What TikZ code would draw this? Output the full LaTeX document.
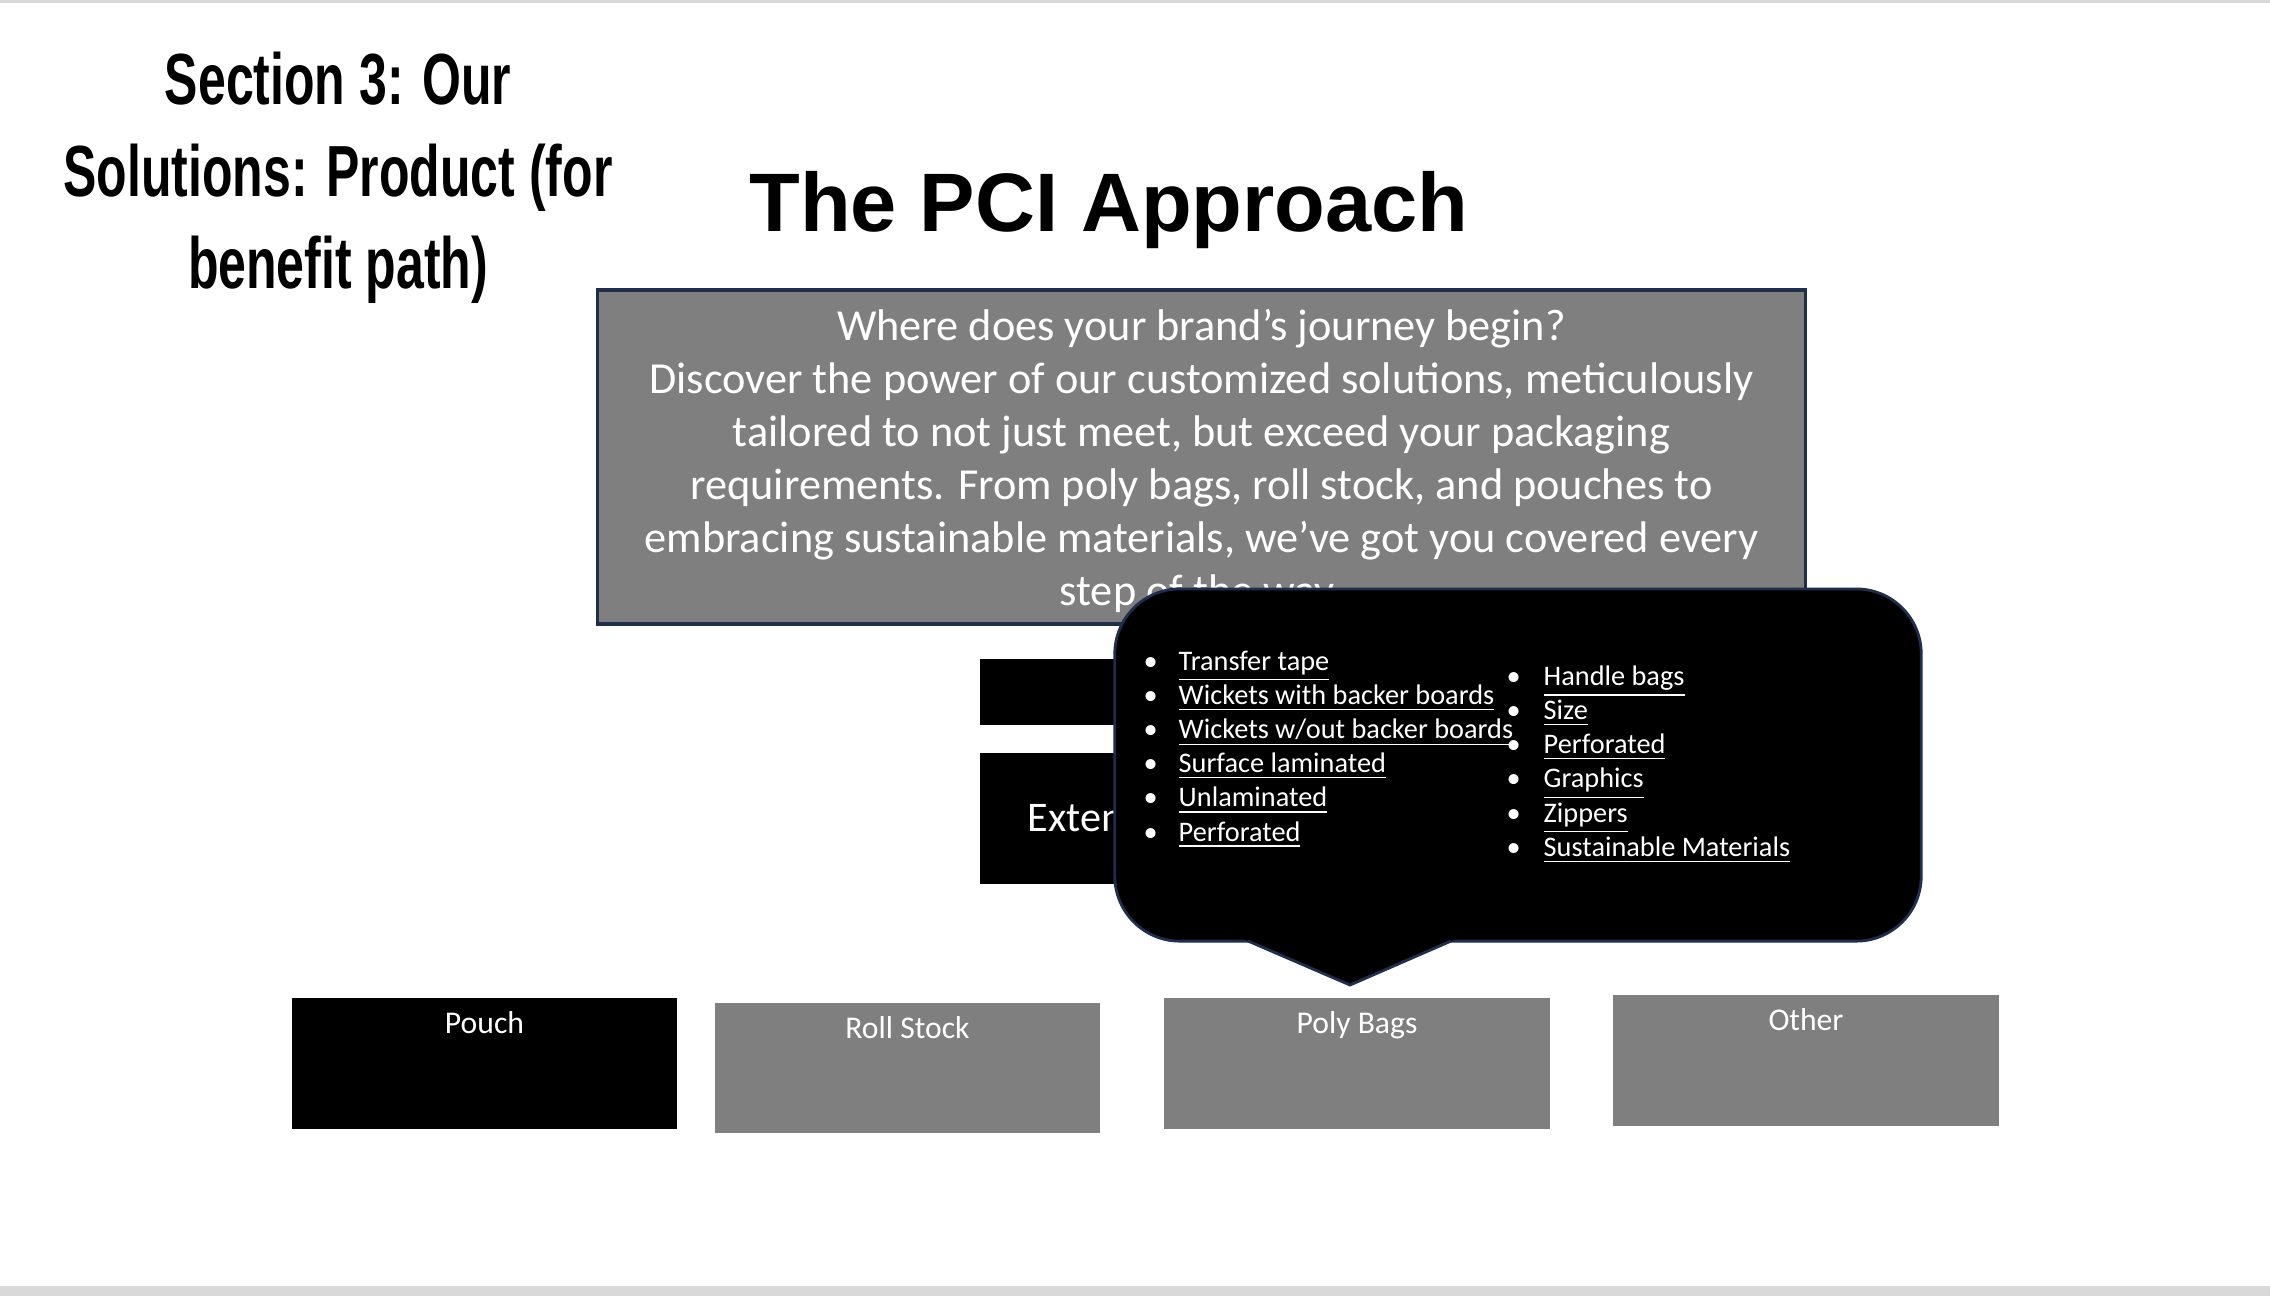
\documentclass[tikz,border=0pt]{standalone}
\usepackage{fontspec}
\usepackage{tikz}
\usepackage{xcolor}
\usetikzlibrary{positioning, shapes}
\setmainfont{Carlito}
\newfontfamily\secfont{Liberation Sans}[FakeStretch=0.69]
\newfontfamily\headfont{Liberation Sans}
\definecolor{slidegray}{HTML}{7F7F7F}
\definecolor{navyline}{HTML}{1F2E4B}
\definecolor{bandgray}{HTML}{D9D9D9}

\begin{document}
\begin{tikzpicture}[x=0.01cm, y=-0.01cm,
    graybox/.style={draw=navyline, line width=1pt, fill=slidegray, inner sep=0pt},
    blackbox/.style={fill=black, inner sep=0pt, anchor=north west},
    catbox/.style={inner sep=0pt, minimum width=3.85cm, minimum height=1.31cm},
    cattext/.style={text=white, inner sep=0pt, font=\fontsize{9}{11}\selectfont},
    item/.style={text=white, inner sep=0pt, anchor=base west, font=\fontsize{8.05}{9.7}\selectfont}]

        \useasboundingbox (0,0) rectangle (2270,1296);
        \fill[white] (0,0) rectangle (2270,1296);
        \fill[bandgray] (0,0) rectangle (2270,3);
        \fill[bandgray] (0,1286) rectangle (2270,1296);

        % headings
        \foreach \txt [count=\i] in {Section 3: Our, Solutions: Product (for, benefit path)}
            \node[anchor=base, inner sep=0pt, font=\secfont\bfseries\fontsize{20.6}{26}\selectfont] (sec\i) at (338,{12+92*\i}) {\txt};
        \node[anchor=base, inner sep=0pt, font=\headfont\bfseries\fontsize{23.6}{28}\selectfont] (approach) at (1109,231) {The PCI Approach};

        \node[graybox, minimum width=12.07cm, minimum height=3.34cm] (intro) at (1201.5,457) {};
        \node[align=center, text=white, inner sep=0pt, font=\fontsize{12.6}{15.1}\selectfont] (introtext) at (1201.5,461)
            {Where does your brand’s journey begin?\\
             Discover the power of our customized solutions, meticulously\\
             tailored to not just meet, but exceed your packaging\\
             requirements. From poly bags, roll stock, and pouches to\\
             embracing sustainable materials, we’ve got you covered every\\
             step of the way.};

        % boxes under the bubble
        \node[blackbox, minimum width=4.2cm, minimum height=0.66cm] (opt) at (979,658) {};
        \node[blackbox, minimum width=4.2cm, minimum height=1.31cm] (ext) at (979,752) {};
        \node[anchor=west, inner sep=0pt, text=white, font=\fontsize{12}{15.1}\selectfont] (extlabel) at (1027,818) {Exten};

        % bubble
        \node[draw=navyline, line width=0.8pt, fill=black, rounded corners=0.65cm,
            minimum width=8.06cm, minimum height=3.52cm, inner sep=0pt] (tips) at (1518,765) {};
        \fill[black] (1225,931) -- (1350,985) -- (1474,931) -- cycle;
        \draw[navyline, line width=0.8pt] (1248,941) -- (1350,985) -- (1451,941);

        \foreach \txt [count=\i] in {Transfer tape, Wickets with backer boards, Wickets w/out backer boards,
            Surface laminated, Unlaminated, Perforated}
            \node[item] (lft\i) at (1143,{635.8+34.2*\i}) {\makebox[0.35cm][l]{\textbullet}\underline{\txt}};
        \foreach \txt [count=\i] in {Handle bags, Size, Perforated, Graphics, Zippers, Sustainable Materials}
            \node[item] (rgt\i) at (1506,{651+34.2*\i}) {\makebox[0.37cm][l]{\textbullet}\underline{\txt}};

        % product boxes
        \node[catbox, fill=black] (pouch) at (484.5,1063.5) {};
        \node[catbox, fill=slidegray, minimum height=1.30cm] (roll) at (907.5,1068) {};
        \node[catbox, fill=slidegray, minimum width=3.86cm] (poly) at (1357,1063.5) {};
        \node[catbox, fill=slidegray, minimum width=3.86cm] (other) at (1806,1060.5) {};
        \node[cattext, below=0.14cm of pouch.north] (pouchlabel) {Pouch};
        \node[cattext, below=0.14cm of roll.north] (rolllabel) {Roll Stock};
        \node[cattext, below=0.14cm of poly.north] (polylabel) {Poly Bags};
        \node[cattext, below=0.14cm of other.north] (otherlabel) {Other};
\end{tikzpicture}
\end{document}
